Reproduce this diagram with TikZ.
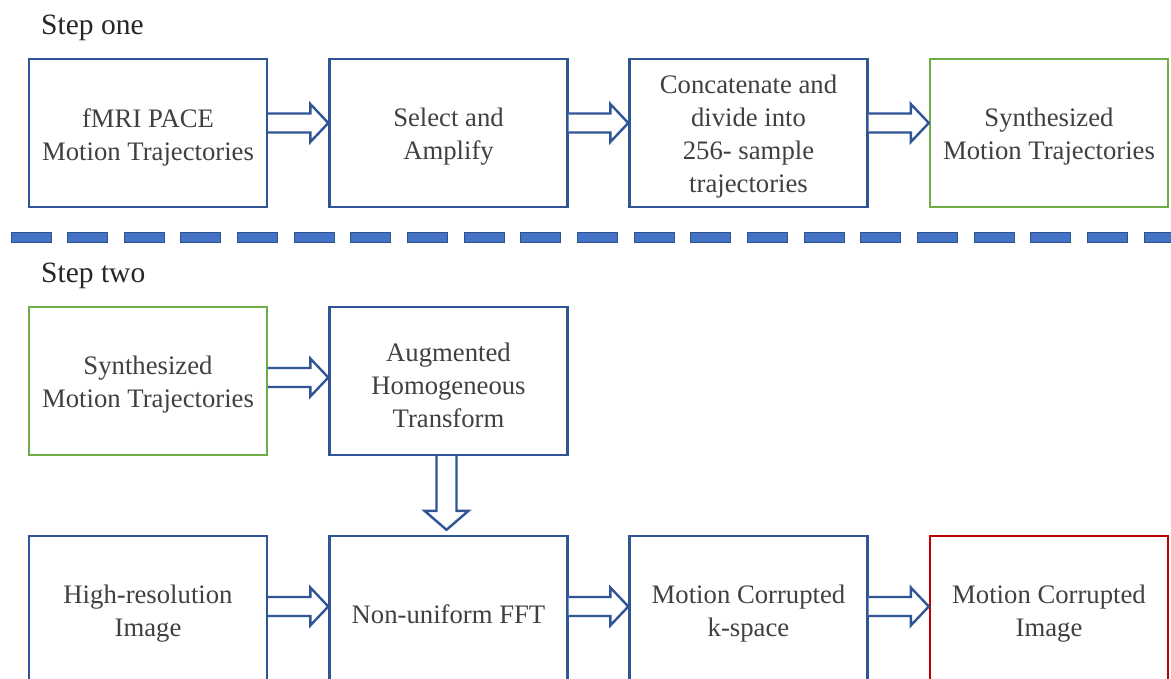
\documentclass[tikz,border=0pt]{standalone}
\usepackage{fontspec}
\setmainfont{Liberation Serif}
\usetikzlibrary{calc}
\definecolor{boxblue}{HTML}{2F5597}
\definecolor{boxgreen}{HTML}{70AD47}
\definecolor{boxred}{HTML}{C00000}
\definecolor{dashfill}{HTML}{4472C4}
\definecolor{dashline}{HTML}{2F528F}
\definecolor{txtgray}{HTML}{404040}
\tikzset{
  stagebox/.style={draw=boxblue, line width=2.4pt, rectangle, inner sep=0pt,
    minimum width=238pt, minimum height=148pt},
  greenbox/.style={stagebox, draw=boxgreen},
  redbox/.style={stagebox, draw=boxred},
  boxtext/.style={align=center, text=txtgray, inner sep=0pt, yshift=-4pt,
    font=\fontsize{26.7pt}{33pt}\selectfont},
  steplabel/.style={anchor=base west, inner sep=0pt, text=black!85,
    font=\fontsize{29.5pt}{34pt}\selectfont},
  blockarrow/.style={draw=boxblue, fill=white, line width=2.4pt, line join=miter},
  sepdash/.style={draw=dashline, fill=dashfill, line width=1pt}
}
% hollow block arrow from node #1 (east side) to node #2 (west side) at height #3
\newcommand{\harrow}[3]{%
  \draw[blockarrow] let \p1=(#1.east), \p2=(#2.west) in
    (\x1,#3-9.5) -- (\x2-18,#3-9.5) -- (\x2-18,#3-19) -- (\x2,#3)
    -- (\x2-18,#3+19) -- (\x2-18,#3+9.5) -- (\x1,#3+9.5);}
\begin{document}
\begin{tikzpicture}[x=1pt,y=-1pt]
\useasboundingbox (0,0) rectangle (1171,679);
\clip (0,0) rectangle (1171,679);

% step one
\node[steplabel] (s1) at (41,35) {Step one};
\node[stagebox] (fmri) at (148,133) {};
\node[stagebox] (sel) at (448.5,133) {};
\node[stagebox] (cat) at (748.5,133) {};
\node[greenbox] (syn1) at (1049,133) {};
\node[boxtext] (fmri-t) at (fmri) {fMRI PACE\\Motion Trajectories};
\node[boxtext] (sel-t) at (sel) {Select and\\Amplify};
\node[boxtext] (cat-t) at (cat) {Concatenate and\\divide into\\256- sample\\trajectories};
\node[boxtext] (syn1-t) at (syn1) {Synthesized\\Motion Trajectories};
\harrow{fmri}{sel}{123}
\harrow{sel}{cat}{123}
\harrow{cat}{syn1}{123}

% separator
\foreach \i in {0,...,20}{
  \path[sepdash] (11+56.65*\i,232.5) rectangle ++(40,10);
}

% step two
\node[steplabel] (s2) at (41,283) {Step two};
\node[greenbox] (syn2) at (148,381) {};
\node[stagebox] (aug) at (448.5,381) {};
\node[stagebox] (hires) at (148,610) {};
\node[stagebox] (nufft) at (448.5,610) {};
\node[stagebox] (kspace) at (748.5,610) {};
\node[redbox] (img) at (1049,610) {};
\node[boxtext] (syn2-t) at (syn2) {Synthesized\\Motion Trajectories};
\node[boxtext] (aug-t) at (aug) {Augmented\\Homogeneous\\Transform};
\node[boxtext] (hires-t) at (hires) {High-resolution\\Image};
\node[boxtext] (nufft-t) at (nufft) {Non-uniform FFT};
\node[boxtext] (kspace-t) at (kspace) {Motion Corrupted\\k-space};
\node[boxtext] (img-t) at (img) {Motion Corrupted\\Image};
\harrow{syn2}{aug}{377.5}
\harrow{hires}{nufft}{606.5}
\harrow{nufft}{kspace}{606.5}
\harrow{kspace}{img}{606.5}

% downward block arrow (canvas coordinates: y grows upwards)
\draw[blockarrow] let \p1=(aug.south), \p2=(nufft.north) in
  (\x1-12,\y1) -- (\x1-12,\y2+24) -- (\x1-24,\y2+24) -- (\x1-2,\y2+5)
  -- (\x1+20,\y2+24) -- (\x1+8,\y2+24) -- (\x1+8,\y1);
\end{tikzpicture}
\end{document}
